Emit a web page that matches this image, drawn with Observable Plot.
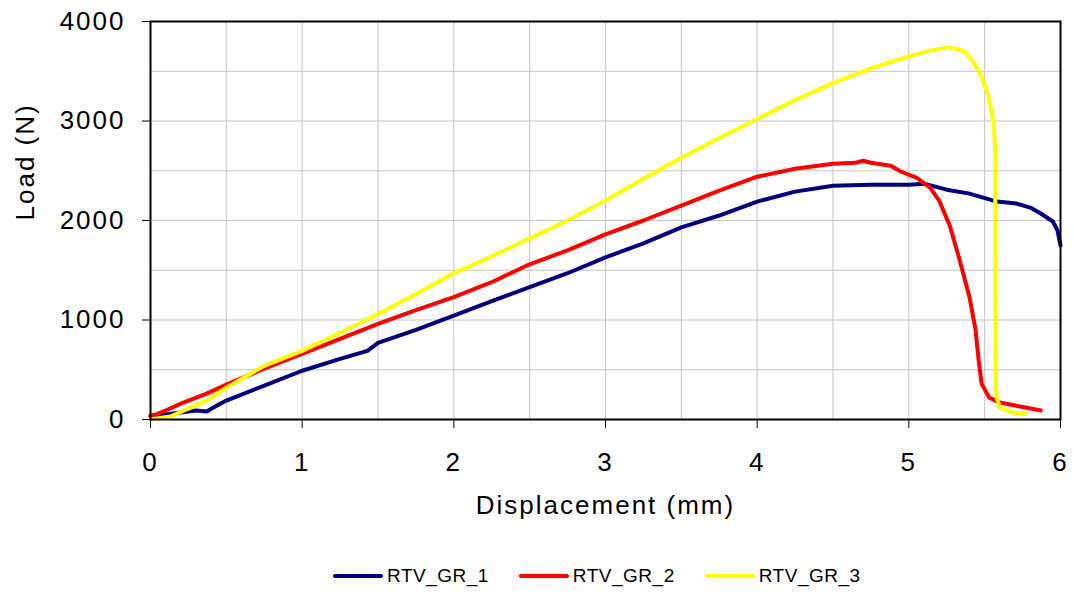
<!DOCTYPE html>
<html>
<head>
<meta charset="utf-8">
<script src="https://cdn.jsdelivr.net/npm/d3@7"></script>
<script src="https://cdn.jsdelivr.net/npm/@observablehq/plot@0.6"></script>
<style>
  html, body { margin: 0; padding: 0; background: #fff; }
  #wrap { position: relative; width: 1074px; height: 594px; font-family: "Liberation Sans", Arial, sans-serif; }
  #chart svg text { letter-spacing: 2px; }
  #legend { position: absolute; left: 333px; top: 565px; display: flex; align-items: center; font-size: 19px; letter-spacing: 0.5px; color: #000; }
  .item { display: flex; align-items: center; margin-right: 30px; }
  .swatch { width: 50px; height: 4px; border-radius: 2px; margin-right: 4px; }
</style>
</head>
<body>
<div id="wrap">
  <div id="chart"></div>
  <div id="legend"></div>
</div>
<script>
// Series names and colours
const seriesNames = ["RTV_GR_1", "RTV_GR_2", "RTV_GR_3"];
const seriesColors = ["#000080", "#ff0000", "#ffff00"];

// Displacement (mm), Load (N) readings
const rtv1 = [[0,40],[0.1,50],[0.2,70],[0.3,90],[0.37,80],[0.45,150],[0.5,190],[0.75,340],[1.0,490],[1.25,610],[1.43,690],[1.5,770],[1.75,900],[2.0,1045],[2.25,1190],[2.5,1330],[2.75,1470],[3.0,1630],[3.25,1770],[3.5,1930],[3.75,2050],[4.0,2190],[4.25,2290],[4.5,2350],[4.75,2360],[5.0,2360],[5.1,2370],[5.25,2310],[5.4,2270],[5.58,2190],[5.71,2170],[5.8,2130],[5.87,2070],[5.95,1990],[5.98,1900],[6.0,1750]];
const rtv2 = [[0,30],[0.1,90],[0.2,160],[0.37,260],[0.5,350],[0.75,510],[1.0,660],[1.25,810],[1.5,960],[1.75,1100],[2.0,1230],[2.25,1380],[2.5,1560],[2.75,1700],[3.0,1860],[3.25,2000],[3.5,2150],[3.75,2300],[4.0,2440],[4.25,2520],[4.5,2570],[4.65,2580],[4.7,2600],[4.75,2580],[4.88,2550],[4.95,2490],[5.05,2430],[5.14,2330],[5.2,2200],[5.27,1950],[5.33,1630],[5.4,1230],[5.44,900],[5.46,600],[5.48,360],[5.53,220],[5.6,170],[5.7,140],[5.77,120],[5.87,90]];
const rtv3 = [[0,0],[0.13,30],[0.25,110],[0.37,190],[0.5,320],[0.66,460],[0.75,540],[1.0,690],[1.25,870],[1.5,1060],[1.75,1260],[2.0,1470],[2.25,1640],[2.5,1820],[2.75,2000],[3.0,2200],[3.25,2420],[3.5,2630],[3.75,2830],[4.0,3020],[4.25,3210],[4.5,3380],[4.75,3530],[5.0,3650],[5.15,3710],[5.26,3740],[5.33,3720],[5.38,3680],[5.44,3560],[5.47,3480],[5.52,3280],[5.56,2980],[5.57,2680],[5.57,1330],[5.575,300],[5.58,220],[5.6,120],[5.69,70],[5.77,60]];

// Ticks and grid
const xTicks = [0, 1, 2, 3, 4, 5, 6];
const yTicks = [0, 1000, 2000, 3000, 4000];
const xGrid = [0.5, 1, 1.5, 2, 2.5, 3, 3.5, 4, 4.5, 5, 5.5];
const yGrid = [500, 1000, 1500, 2000, 2500, 3000, 3500];
const xTitle = "Displacement (mm)";
const yTitle = "Load (N)";

const table = [rtv1, rtv2, rtv3].flatMap((s, i) => s.map(([d, l]) => ({series: seriesNames[i], d, l})));

const chart = Plot.plot({
  width: 1074,
  height: 550,
  marginLeft: 150,
  marginRight: 14,
  marginTop: 21,
  marginBottom: 131,
  style: {fontFamily: "'Liberation Sans', Arial, sans-serif", fontSize: "26px", background: "white", color: "black"},
  x: {domain: [0, 6]},
  y: {domain: [0, 4000]},
  color: {domain: seriesNames, range: seriesColors},
  marks: [
    Plot.gridX(xGrid, {stroke: "#c4c4c4", strokeOpacity: 1, strokeWidth: 1}),
    Plot.gridY(yGrid, {stroke: "#c4c4c4", strokeOpacity: 1, strokeWidth: 1}),
    Plot.line(table, {x: "d", y: "l", z: "series", stroke: "series", strokeWidth: 4, curve: "linear"}),
    Plot.frame({stroke: "black", strokeWidth: 2}),
    Plot.axisX(xTicks, {tickSize: 9, tickPadding: 24, fontSize: 26, label: null, stroke: "black", tickFormat: d3.format("d")}),
    Plot.axisY(yTicks, {tickSize: 8, tickPadding: 17, fontSize: 26, label: null, stroke: "black", tickFormat: d3.format("d")}),
    Plot.text([xTitle], {frameAnchor: "bottom", dy: 94, fontSize: 26, fill: "black"}),
    Plot.text([yTitle], {frameAnchor: "left", dx: -125, rotate: -90, fontSize: 26, fill: "black"})
  ]
});
document.getElementById("chart").append(chart);

const legend = document.getElementById("legend");
seriesNames.forEach((name, i) => {
  const item = document.createElement("div");
  item.className = "item";
  const sw = document.createElement("div");
  sw.className = "swatch";
  sw.style.background = seriesColors[i];
  const label = document.createElement("span");
  label.textContent = name;
  item.append(sw, label);
  legend.append(item);
});
</script>
</body>
</html>
